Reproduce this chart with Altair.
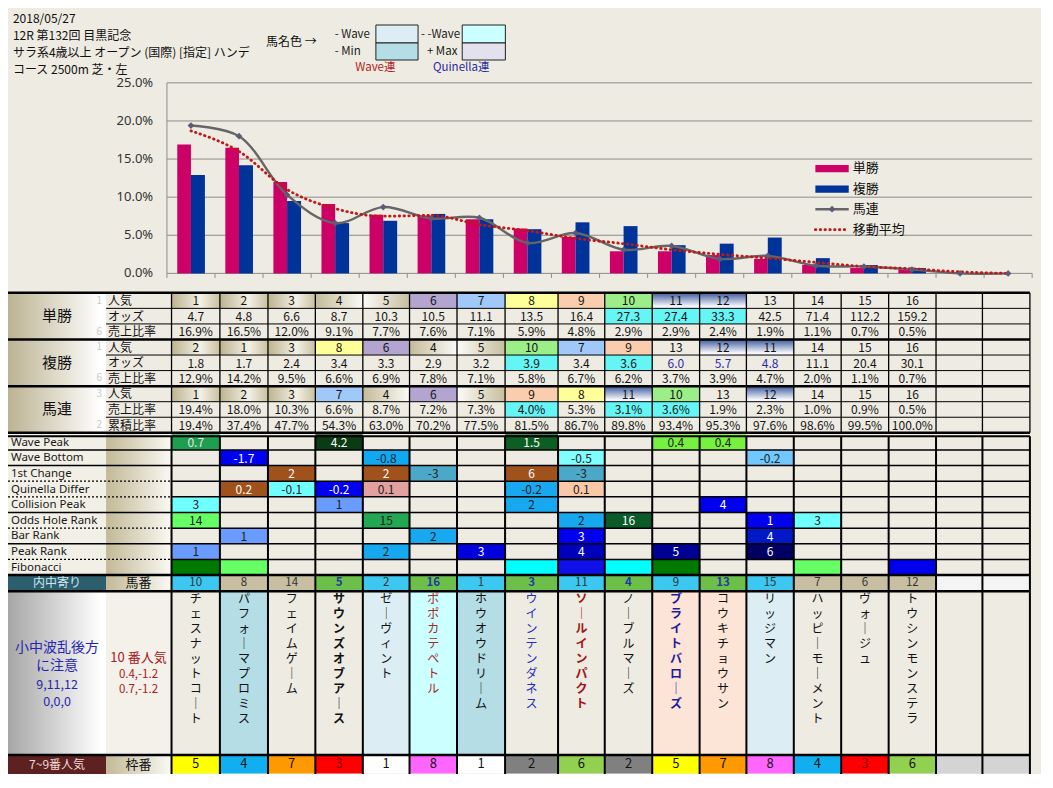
import altair as alt
import pandas as pd

# ======================= DATA =======================
header_lines = ["2018/05/27", "12R 第132回 目黒記念",
                "サラ系4歳以上 オープン (国際) [指定] ハンデ", "コース 2500m  芝・左"]

# chart (columns ordered by win popularity)
win_share = [16.9, 16.5, 12.0, 9.1, 7.7, 7.6, 7.1, 5.9, 4.8, 2.9, 2.9, 2.4, 1.9, 1.1, 0.7, 0.5]
place_share = [12.9, 14.2, 9.5, 6.6, 6.9, 7.8, 7.1, 5.8, 6.7, 6.2, 3.7, 3.9, 4.7, 2.0, 1.1, 0.7]
quin_share = [19.4, 18.0, 10.3, 6.6, 8.7, 7.2, 7.3, 4.0, 5.3, 3.1, 3.6, 1.9, 2.3, 1.0, 0.9, 0.5]
quin_line = quin_share + [0.0, 0.0]
moving_avg = [18.7, 16.0, 11.0, 8.5, 7.5, 7.6, 6.4, 5.6, 4.6, 3.9, 3.1, 2.5, 2.0, 1.45, 0.9, 0.6, 0.2, 0.0]
y_ticks = [0, 5, 10, 15, 20, 25]
legend_labels = ["単勝", "複勝", "馬連", "移動平均"]

# upper table
win_pop = [1, 2, 3, 4, 5, 6, 7, 8, 9, 10, 11, 12, 13, 14, 15, 16]
win_odds = ["4.7", "4.8", "6.6", "8.7", "10.3", "10.5", "11.1", "13.5", "16.4", "27.3",
            "27.4", "33.3", "42.5", "71.4", "112.2", "159.2"]
place_pop = [2, 1, 3, 8, 6, 4, 5, 10, 7, 9, 13, 12, 11, 14, 15, 16]
place_odds = ["1.8", "1.7", "2.4", "3.4", "3.3", "2.9", "3.2", "3.9", "3.4", "3.6",
              "6.0", "5.7", "4.8", "11.1", "20.4", "30.1"]
quin_pop = [1, 2, 3, 7, 4, 6, 5, 9, 8, 11, 10, 13, 12, 14, 15, 16]
quin_cum = [19.4, 37.4, 47.7, 54.3, 63.0, 70.2, 77.5, 81.5, 86.7, 89.8, 93.4, 95.3, 97.6, 98.6, 99.5, 100.0]
section_names = ["単勝", "複勝", "馬連"]
sub_labels = ["人気", "オッズ", "売上比率", "人気", "オッズ", "売上比率", "人気", "売上比率", "累積比率"]
side_numbers = ["1", "", "6", "1", "", "6", "3", "", "2"]

# lower table: (column, text, fill, text colour)
wave_peak = [(1, "0.7", "#1E9E50", "#E8E8E8"), (4, "4.2", "#0B3B12", "#FFFFFF"), (8, "1.5", "#0C5E22", "#FFFFFF"),
             (11, "0.4", "#77F040", "#222222"), (12, "0.4", "#77F040", "#222222")]
wave_bottom = [(2, "-1.7", "#0000F0", "#FFFFFF"), (5, "-0.8", "#10A8F0", "#222222"),
               (9, "-0.5", "#80FFFF", "#222222"), (13, "-0.2", "#70C8FF", "#222222")]
first_change = [(3, "2", "#A0521C", "#FFFFFF"), (5, "2", "#A0521C", "#FFFFFF"), (6, "-3", "#4BA8C8", "#222222"),
                (8, "6", "#A0521C", "#FFFFFF"), (9, "-3", "#4BA8C8", "#222222")]
quinella_differ = [(2, "0.2", "#A0521C", "#FFFFFF"), (3, "-0.1", "#70FFFF", "#222222"),
                   (4, "-0.2", "#0000EE", "#FFFFFF"), (5, "0.1", "#E2A0A0", "#222222"),
                   (8, "-0.2", "#18A8F0", "#222222"), (9, "0.1", "#FAC8A8", "#222222")]
collision_peak = [(1, "3", "#70FFFF", "#222222"), (4, "1", "#6A9BFF", "#222222"),
                  (8, "2", "#18A8F0", "#222222"), (12, "4", "#0000EE", "#FFFFFF")]
odds_hole_rank = [(1, "14", "#66FF66", "#222222"), (5, "15", "#22A852", "#222222"), (9, "2", "#18A8F0", "#222222"),
                  (10, "16", "#0A5A2A", "#FFFFFF"), (13, "1", "#0000EE", "#FFFFFF"), (14, "3", "#70FFFF", "#222222")]
bar_rank = [(2, "1", "#6A9BFF", "#222222"), (6, "2", "#18A8F0", "#222222"),
            (9, "3", "#0000EE", "#FFFFFF"), (13, "4", "#0018C8", "#FFFFFF")]
peak_rank = [(1, "1", "#6A9BFF", "#222222"), (5, "2", "#18A8F0", "#222222"), (7, "3", "#0000DD", "#FFFFFF"),
             (9, "4", "#0000BB", "#FFFFFF"), (11, "5", "#000095", "#FFFFFF"), (13, "6", "#000062", "#FFFFFF")]
fibonacci = [(1, "", "#007A00", ""), (2, "", "#66FF66", ""), (8, "", "#00FFFF", ""), (9, "", "#1010E8", ""),
             (10, "", "#00FFFF", ""), (11, "", "#007A00", ""), (14, "", "#66FF66", ""), (16, "", "#0000EE", "")]
lower_names = ["Wave Peak", "Wave Bottom", "1st Change", "Quinella Differ", "Collision Peak",
               "Odds Hole Rank", "Bar Rank", "Peak Rank", "Fibonacci"]
lower_rows = [wave_peak, wave_bottom, first_change, quinella_differ, collision_peak,
              odds_hole_rank, bar_rank, peak_rank, fibonacci]

horse_names = ["チェスナットコート", "パフォーマプロミス", "フェイムゲーム", "サウンズオブアース", "ゼーヴィント",
               "ポポカテペトル", "ホウオウドリーム", "ウインテンダネス", "ソールインパクト", "ノーブルマーズ",
               "ブライトバローズ", "コウキチョウサン", "リッジマン", "ハッピーモーメント", "ヴォージュ", "トウシンモンステラ"]
horse_numbers = [10, 8, 14, 5, 2, 16, 1, 3, 11, 4, 9, 13, 15, 7, 6, 12]
frame_numbers = [5, 4, 7, 3, 1, 8, 1, 2, 6, 2, 5, 7, 8, 4, 3, 6]
note_blue = ["小中波乱後方", "に注意", "9,11,12", "0,0,0"]
note_red = ["10 番人気", "0.4,-1.2", "0.7,-1.2"]

# ======================= STYLE / LAYOUT =======================
W, H = 1033, 766
RW, RH = 1053.0, 788.0
def sx(v): return v * W / RW
def sy(v): return v * H / RH

BEIGE = "#EEEBE2"
CYAN = "#66F5F5"
JP = "Noto Sans CJK JP"
LAT = "Noto Sans"
PINK, NAVY = "#CC0066", "#003399"

COL_EDGES = [166.7, 216, 265, 313.3, 361.7, 409.3, 457.7, 506.7, 560.7, 608.3, 656.7, 705,
             752.7, 801, 849.3, 897.7, 946, 993.3, 1041.7]
ROW_EDGES = [293, 309, 325, 341, 357, 373, 389, 405, 421, 437,
             438.5, 454.6, 470.7, 486.8, 502.9, 519, 535.1, 551.2, 567.3, 583.4,
             600, 768.5, 787.5]

POP_FILL = {6: "#B3A5D0", 7: "#A0C8F8", 8: "#FFFF99", 9: "#F9CDAE", 10: "#9CEE88"}
POP_GRAD = {1: "tan", 2: "tan", 3: "tan", 4: "tanL", 5: "tanR", 11: "blue", 12: "blue"}
win_odds_cyan, place_odds_cyan, quin_share_cyan = [10, 11, 12], [8, 10], [8, 10, 11]
place_odds_blue = [11, 12, 13]
name_bg = {2: "#B5DDE6", 5: "#DCEEF3", 6: "#CCFFFF", 7: "#B5DDE6", 11: "#FCE4D6", 12: "#FCE4D6", 13: "#DCEEF3"}
name_color = {6: "#A52A2A", 8: "#2B2BC0", 9: "#A01414", 11: "#1C1C9C"}
name_bold = [4, 9, 11]
horse_no_tone = ["b", "t", "t", "g", "b", "g", "b", "g", "b", "g", "b", "g", "b", "t", "t", "t"]
TONE = {"b": "#3CC8F0", "t": "#C8BFA2", "g": "#6CC04A"}
FRAME = {1: "#FFFFFF", 2: "#808080", 3: "#FF0000", 4: "#10B0F0", 5: "#FFFF00", 6: "#92D050", 7: "#FF9900", 8: "#FF66FF"}


def lin(domain, rng):
    return alt.Scale(type="linear", domain=domain, range=rng, zero=False, nice=False)

XC = lin([0, RW], [0, W])
YC = lin([0, RH], [0, H])
XT = lin(list(range(19)), [sx(e) for e in COL_EDGES])
YT = lin(list(range(len(ROW_EDGES))), [sy(e) for e in ROW_EDGES])
XB = lin([0.5, 18.5], [sx(162), sx(1044)])
YB = lin([0, 25], [sy(273), sy(77)])


def hgrad(stops, vertical=False):
    return {"gradient": "linear", "x1": 0, "y1": 0, "x2": 0 if vertical else 1, "y2": 1 if vertical else 0,
            "stops": [{"offset": o, "color": c} for o, c in stops]}


def xy(xs, ys, x="x0", y="y0", x2=None, y2=None):
    e = dict(x=alt.X(f"{x}:Q", scale=xs, axis=None), y=alt.Y(f"{y}:Q", scale=ys, axis=None))
    if x2:
        e["x2"] = alt.X2(f"{x2}:Q")
    if y2:
        e["y2"] = alt.Y2(f"{y2}:Q")
    return e


def rect_layer(df, xs, ys, **mark):
    return alt.Chart(df).mark_rect(**mark).encode(**xy(xs, ys, "x0", "y0", "x1", "y1"),
                                                  fill=alt.Fill("fill:N", scale=None))


def grad_layer(df, xs, ys, grad):
    return alt.Chart(df).mark_rect(fill=grad).encode(**xy(xs, ys, "x0", "y0", "x1", "y1"))


def text_layer(df, xs, ys, align="center", weight="normal", font=JP):
    return alt.Chart(df).mark_text(align=align, baseline="middle", fontWeight=weight, font=font).encode(
        **xy(xs, ys, "x", "y"), text="text:N",
        color=alt.Color("color:N", scale=None), size=alt.Size("size:Q", scale=None))


def rule_layer(df, xs, ys, dash=None):
    m = {"strokeDash": dash} if dash else {}
    return alt.Chart(df).mark_rule(**m).encode(
        **xy(xs, ys, "x0", "y0", "x1", "y1"),
        color=alt.Color("color:N", scale=None), strokeWidth=alt.StrokeWidth("w:Q", scale=None))


def pct(v):
    return f"{v:.1f}%"


layers = []

# ---------- label-area backgrounds (canvas units) ----------
plain = pd.DataFrame([
    (100, 166.7, 293, 437, BEIGE),
    (0, 100, 438.5, 583.4, "#F1EFE6"),
    (0, 100, 583.4, 600, "#2D5E6E"),
    (100, 166.7, 600, 768.5, "#F3F1E9"),
    (0, 100, 768.5, 788, "#5E2121"),
], columns=["x0", "x1", "y0", "y1", "fill"])
layers.append(rect_layer(plain, XC, YC))
tan_grad = hgrad([(0, "#C2B996"), (1, "#FAF9F4")])
layers.append(grad_layer(pd.DataFrame([(0, 100, 293, 437)], columns=["x0", "x1", "y0", "y1"]), XC, YC,
                         hgrad([(0, "#BCB392"), (0.95, "#FFFFFF"), (1, "#FFFFFF")])))
layers.append(grad_layer(pd.DataFrame([(100, 166.7, 438.5, 583.4), (100, 166.7, 583.4, 600),
                                       (100, 166.7, 768.5, 788)], columns=["x0", "x1", "y0", "y1"]),
                         XC, YC, tan_grad))
layers.append(grad_layer(pd.DataFrame([(0, 100, 600, 768.5)], columns=["x0", "x1", "y0", "y1"]), XC, YC,
                         hgrad([(0, "#A6A6A6"), (0.95, "#FFFFFF"), (1, "#FFFFFF")])))

# ---------- table cells ----------
cells, grads, texts = [], [], []
pop_rows = {0: win_pop, 3: place_pop, 6: quin_pop}
val_rows = {1: win_odds, 2: [pct(v) for v in win_share], 4: place_odds,
            5: [pct(v) for v in place_share], 7: [pct(v) for v in quin_share], 8: [pct(v) for v in quin_cum]}
cyan_cells = {(1, c) for c in win_odds_cyan} | {(4, c) for c in place_odds_cyan} | {(7, c) for c in quin_share_cyan}
for r in range(9):
    for c in range(1, 19):
        fill = BEIGE
        txt, col = "", "#141414"
        if c <= 16:
            if r in pop_rows:
                p = pop_rows[r][c - 1]
                fill = POP_FILL.get(p, BEIGE)
                if p in POP_GRAD:
                    grads.append(dict(x0=c - 1, x1=c, y0=r, y1=r + 1, g=POP_GRAD[p]))
                txt = str(p)
            else:
                txt = val_rows[r][c - 1]
            if (r, c) in cyan_cells:
                fill = CYAN
            if r == 4 and c in place_odds_blue:
                col = "#2B2BA8"
        cells.append(dict(x0=c - 1, x1=c, y0=r, y1=r + 1, fill=fill))
        if txt:
            texts.append(dict(x=c - 0.5, y=r + 0.55, text=txt, color=col, size=12))

for i, row in enumerate(lower_rows):
    r = 10 + i
    hits = {e[0]: e for e in row}
    for c in range(1, 19):
        fill = hits[c][2] if c in hits else BEIGE
        cells.append(dict(x0=c - 1, x1=c, y0=r, y1=r + 1, fill=fill))
        if c in hits and hits[c][1]:
            texts.append(dict(x=c - 0.5, y=r + 0.55, text=hits[c][1], color=hits[c][3], size=12))

bold_texts = []
for c in range(1, 19):
    if c <= 16:
        tone = horse_no_tone[c - 1]
        cells.append(dict(x0=c - 1, x1=c, y0=19, y1=20, fill=TONE[tone]))
        rec = dict(x=c - 0.5, y=19.5, text=str(horse_numbers[c - 1]),
                   color="#1F3AA0" if tone == "g" else "#333333", size=11.5)
        (bold_texts if tone == "g" else texts).append(rec)
        cells.append(dict(x0=c - 1, x1=c, y0=20, y1=21, fill=name_bg.get(c, BEIGE)))
        f = frame_numbers[c - 1]
        cells.append(dict(x0=c - 1, x1=c, y0=21, y1=22, fill=FRAME[f]))
        texts.append(dict(x=c - 0.5, y=21.5, text=str(f), color="#8B0000" if f == 3 else "#141414", size=13))
    else:
        cells.append(dict(x0=c - 1, x1=c, y0=19, y1=20, fill="#F4F4F4"))
        cells.append(dict(x0=c - 1, x1=c, y0=20, y1=21, fill=BEIGE))
        cells.append(dict(x0=c - 1, x1=c, y0=21, y1=22, fill="#D4D4D4"))

layers.append(rect_layer(pd.DataFrame(cells), XT, YT))

gdf = pd.DataFrame(grads)
GRADS = {
    "tan": hgrad([(0, "#BDB38F"), (0.6, "#F3F1E6"), (1, "#C9C0A0")]),
    "tanL": hgrad([(0, "#C4BB99"), (1, "#FAFAF6")]),
    "tanR": hgrad([(0, "#FBFBF8"), (1, "#C8BF9F")]),
    "blue": hgrad([(0, "#3B5A9A"), (0.85, "#F4F4FA"), (1, "#F4F4FA")], vertical=True),
}
for g, spec in GRADS.items():
    sub = gdf[gdf.g == g][["x0", "x1", "y0", "y1"]]
    if len(sub):
        layers.append(grad_layer(sub, XT, YT, spec))

# ---------- table lines (canvas units) ----------
R = ROW_EDGES
hl = []
for y in [293, 341, 389, 437]:
    hl.append((0, 1041.7, y, y, "#000000", 2.5))
for y in [309, 325, 357, 373, 405, 421]:
    hl.append((100, 1041.7, y, y, "#000000", 1))
hl.append((0, 1041.7, 440.5, 440.5, "#000000", 2))
for y in [454.6, 470.7, 519, 551.2]:
    hl.append((0, 1041.7, y, y, "#000000", 1.5))
for y in [486.8, 502.9, 535.1, 567.3]:
    hl.append((166.7, 1041.7, y, y, "#000000", 1.5))
for y in [583.4, 600, 768.5]:
    hl.append((0, 1041.7, y, y, "#000000", 2.5))
for x in COL_EDGES:
    hl.append((x, x, 293, 437, "#000000", 1.3))
    hl.append((x, x, 440.5, 788, "#000000", 2))
layers.append(rule_layer(pd.DataFrame(hl, columns=["x0", "x1", "y0", "y1", "color", "w"]), XC, YC))
dl = [(0, 166.7, y, y, "#000000", 1.2) for y in [486.8, 502.9, 535.1, 567.3]]
layers.append(rule_layer(pd.DataFrame(dl, columns=["x0", "x1", "y0", "y1", "color", "w"]), XC, YC, dash=[2, 2]))

# ---------- table texts ----------
layers.append(text_layer(pd.DataFrame(texts), XT, YT))
layers.append(text_layer(pd.DataFrame(bold_texts), XT, YT, weight="bold"))

# horse names (vertical, one character per step)
nm_n, nm_b = [], []
for c, name in enumerate(horse_names, start=1):
    for k, ch in enumerate(name):
        ch = "｜" if ch == "ー" else ch
        rec = dict(x=c - 0.5, y=20 + (608 + 15.4 * k - 600) / 168.5, text=ch,
                   color=name_color.get(c, "#111111"), size=12)
        (nm_b if c in name_bold else nm_n).append(rec)
layers.append(text_layer(pd.DataFrame(nm_n), XT, YT))
layers.append(text_layer(pd.DataFrame(nm_b), XT, YT, weight="bold"))

# label texts (canvas units)
lab = []
for i, s in enumerate(section_names):
    lab.append(dict(x=50, y=317 + 48 * i, text=s, color="#111111", size=15))
lab += [dict(x=50, y=591.7, text="内中寄り", color="#CFE8F0", size=12),
        dict(x=133, y=591.7, text="馬番", color="#111111", size=13),
        dict(x=50, y=778.5, text="7~9番人気", color="#F2D8D8", size=12),
        dict(x=133, y=778.5, text="枠番", color="#111111", size=13)]
for t, y, s in zip(note_blue, [658, 677, 696, 714], [14, 14, 12.5, 12.5]):
    lab.append(dict(x=50, y=y, text=t, color="#2626B0", size=s))
for t, y, s in zip(note_red, [668.5, 686, 701.5], [13, 11.5, 11.5]):
    lab.append(dict(x=133, y=y, text=t, color="#A82020", size=s))
layers.append(text_layer(pd.DataFrame(lab), XC, YC))

lab_l = [dict(x=102, y=(R[i] + R[i + 1]) / 2 + 0.5, text=t, color="#111111", size=12) for i, t in enumerate(sub_labels)]
layers.append(text_layer(pd.DataFrame(lab_l), XC, YC, align="left"))
side = [dict(x=96, y=(R[i] + R[i + 1]) / 2, text=t, color="#CACACA", size=10)
        for i, t in enumerate(side_numbers) if t]
layers.append(text_layer(pd.DataFrame(side), XC, YC, align="right"))
low_l = [dict(x=3, y=(R[10 + i] + R[11 + i]) / 2 + 0.5, text=t, color="#1A1A1A", size=11.5)
         for i, t in enumerate(lower_names)]
layers.append(text_layer(pd.DataFrame(low_l), XC, YC, align="left", font=LAT))

# ---------- bar / line chart ----------
grid = pd.DataFrame({"v": y_ticks, "lo": 0.5, "hi": 18.5})
layers.append(alt.Chart(grid).mark_rule(color="#8C8C8C", strokeWidth=1).encode(
    x=alt.X("lo:Q", scale=XB, axis=None), x2="hi:Q", y=alt.Y("v:Q", scale=YB, axis=None)))
ax = pd.DataFrame({"lo": [0.5], "v0": [0], "v1": [25]})
layers.append(alt.Chart(ax).mark_rule(color="#8C8C8C", strokeWidth=1).encode(
    x=alt.X("lo:Q", scale=XB, axis=None), y=alt.Y("v0:Q", scale=YB, axis=None), y2="v1:Q"))
xt = pd.DataFrame({"b": [k + 0.5 for k in range(19)], "v0": 0.0, "v1": -0.6})
layers.append(alt.Chart(xt).mark_rule(color="#8C8C8C", strokeWidth=1).encode(
    x=alt.X("b:Q", scale=XB, axis=None), y=alt.Y("v0:Q", scale=YB, axis=None), y2="v1:Q"))
tl = pd.DataFrame({"v": y_ticks, "text": [f"{t:.1f}%" for t in y_ticks]})
layers.append(alt.Chart(tl).mark_text(align="right", baseline="middle", font=LAT, fontSize=13, color="#333333").encode(
    x=alt.value(sx(148)), y=alt.Y("v:Q", scale=YB, axis=None), text="text:N"))

bars = pd.DataFrame({"pos": list(range(1, 17)), "win": win_share, "place": place_share})
layers.append(alt.Chart(bars).transform_calculate(a="datum.pos - 0.285", b="datum.pos", z="0").mark_rect(
    color=PINK).encode(x=alt.X("a:Q", scale=XB, axis=None), x2="b:Q",
                       y=alt.Y("win:Q", scale=YB, axis=None), y2="z:Q"))
layers.append(alt.Chart(bars).transform_calculate(a="datum.pos", b="datum.pos + 0.29", z="0").mark_rect(
    color=NAVY).encode(x=alt.X("a:Q", scale=XB, axis=None), x2="b:Q",
                       y=alt.Y("place:Q", scale=YB, axis=None), y2="z:Q"))

lines = pd.DataFrame({"pos": list(range(1, 19)), "quin": quin_line, "ma": moving_avg})
layers.append(alt.Chart(lines).mark_line(color="#666666", strokeWidth=2.4, interpolate="catmull-rom").encode(
    x=alt.X("pos:Q", scale=XB, axis=None), y=alt.Y("quin:Q", scale=YB, axis=None)))
layers.append(alt.Chart(lines).mark_line(color="#C01818", strokeWidth=2.8, strokeDash=[0.5, 4.3],
                                         strokeCap="round", interpolate="monotone").encode(
    x=alt.X("pos:Q", scale=XB, axis=None), y=alt.Y("ma:Q", scale=YB, axis=None)))
layers.append(alt.Chart(lines).mark_point(shape="diamond", filled=True, size=45, color="#5C5C78", opacity=1).encode(
    x=alt.X("pos:Q", scale=XB, axis=None), y=alt.Y("quin:Q", scale=YB, axis=None)))

# legend
leg_r = pd.DataFrame([(823, 857, 161.5, 169, PINK), (823, 857, 182.5, 190, NAVY)],
                     columns=["x0", "x1", "y0", "y1", "fill"])
layers.append(rect_layer(leg_r, XC, YC))
layers.append(rule_layer(pd.DataFrame([(823, 857, 207, 207, "#666666", 2.4)],
                                      columns=["x0", "x1", "y0", "y1", "color", "w"]), XC, YC))
layers.append(alt.Chart(pd.DataFrame([(823, 857, 228, 228, "#C01818", 2.8)],
                                     columns=["x0", "x1", "y0", "y1", "color", "w"])).mark_rule(
    strokeDash=[0.5, 4.3], strokeCap="round").encode(
    **xy(XC, YC, "x0", "y0", "x1", "y1"), color=alt.Color("color:N", scale=None),
    strokeWidth=alt.StrokeWidth("w:Q", scale=None)))
layers.append(alt.Chart(pd.DataFrame({"x": [840], "y": [207]})).mark_point(
    shape="diamond", filled=True, size=45, color="#5C5C78", opacity=1).encode(**xy(XC, YC, "x", "y")))
leg_t = pd.DataFrame({"x": 861, "y": [165, 186.5, 207, 228], "text": legend_labels, "color": "#111111", "size": 13})
layers.append(text_layer(leg_t, XC, YC, align="left"))

# ---------- header ----------
hd = pd.DataFrame({"x": 5, "y": [11, 29, 46.5, 64], "text": header_lines, "color": "#111111", "size": 12})
layers.append(text_layer(hd, XC, YC, align="left"))
hbox = pd.DataFrame([(375, 418, 17.5, 36, "#DCEEF3"), (375, 418, 36, 53.5, "#B5DDE6"),
                     (463, 507, 17.5, 36, "#CCFFFF"), (463, 507, 36, 53.5, "#E3E1EE")],
                    columns=["x0", "x1", "y0", "y1", "fill"])
layers.append(rect_layer(hbox, XC, YC, stroke="#222222", strokeWidth=1))
hl2 = pd.DataFrame([
    dict(x=263, y=35, text="馬名色 →", color="#111111", size=12),
    dict(x=333, y=28, text="- Wave", color="#222222", size=11.5),
    dict(x=333, y=45, text="- Min", color="#222222", size=11.5),
    dict(x=421, y=28, text="- -Wave", color="#222222", size=11.5),
    dict(x=427, y=45, text="+ Max", color="#222222", size=11.5),
])
layers.append(text_layer(hl2, XC, YC, align="left"))
hl3 = pd.DataFrame([dict(x=374.5, y=62, text="Wave連", color="#B22222", size=11.5),
                    dict(x=462, y=62, text="Quinella連", color="#2A2AA0", size=11.5)])
layers.append(text_layer(hl3, XC, YC))

chart = alt.layer(*layers).resolve_scale(x="independent", y="independent").properties(
    width=W, height=H, background=BEIGE, padding=0, autosize=alt.AutoSizeParams(type="none")
).configure_view(strokeWidth=0)

chart.save("out.html", embed_options={"renderer": "svg", "actions": False})
